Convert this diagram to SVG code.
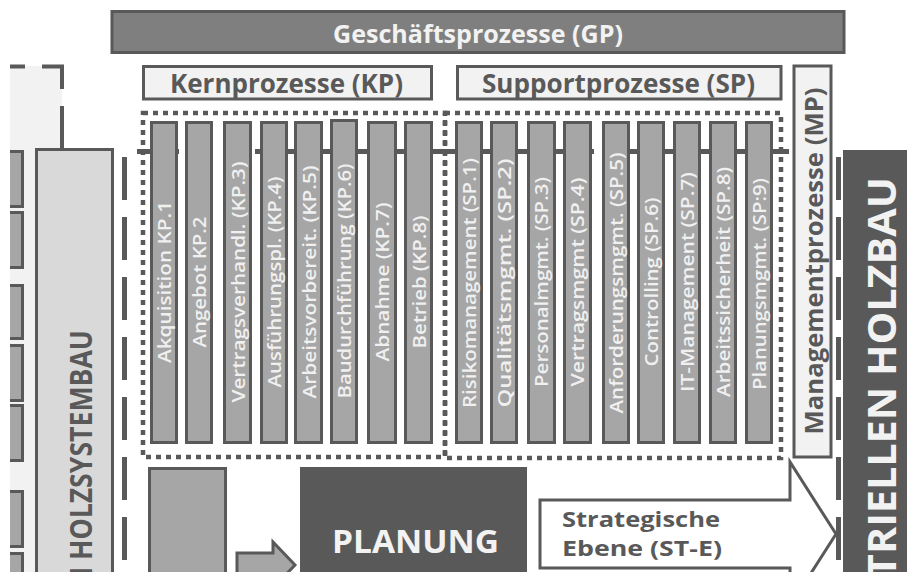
<svg xmlns="http://www.w3.org/2000/svg" width="907" height="572" viewBox="0 0 907 572">
<style>
.col{fill:#a6a6a6;stroke:#595959;stroke-width:3}
.lt{fill:#f2f2f2;stroke:#595959;stroke-width:3}
.t{font-family:"Open Sans","Noto Sans","Liberation Sans",sans-serif;font-weight:700}
.ct{font-family:"Open Sans","Noto Sans","Liberation Sans",sans-serif;font-weight:600;font-size:18px;fill:#f0f0f0;text-anchor:middle}
.dot{fill:none;stroke:#595959;stroke-width:4.5;stroke-dasharray:5 5}
.dash{fill:none;stroke:#595959;stroke-width:5;stroke-dasharray:43 17}
</style>
<rect width="907" height="572" fill="#ffffff"/>

<g id="left-area">
<rect x="10" y="66" width="52" height="506" fill="#f2f2f2"/>
<path d="M10 66.5 H25 M42 66.5 H64 M62 65 V89 M62 106 V148" fill="none" stroke="#595959" stroke-width="4"/>
</g>

<g id="left-small-boxes">
<rect class="col" x="3" y="151.5" width="19.5" height="55"/>
<rect class="col" x="3" y="212.5" width="19.5" height="55"/>
<rect class="col" x="3" y="285.5" width="19.5" height="53"/>
<rect class="col" x="3" y="345.5" width="19.5" height="55"/>
<rect class="col" x="3" y="405.5" width="19.5" height="55"/>
<rect class="col" x="3" y="491.5" width="19.5" height="55"/>
<rect class="col" x="3" y="553.5" width="19.5" height="40"/>
<rect x="0" y="140" width="10" height="432" fill="#ffffff"/>
</g>

<g id="holzsystembau">
<rect x="36.5" y="149.5" width="76" height="440" fill="#d9d9d9" stroke="#595959" stroke-width="3"/>
<text class="t" transform="translate(92,330) rotate(-90)" font-size="30" fill="#595959" text-anchor="end" textLength="262" lengthAdjust="spacingAndGlyphs">M HOLZSYSTEMBAU</text>
</g>

<g id="gp">
<rect x="112" y="11.5" width="732" height="41" fill="#7f7f7f" stroke="#595959" stroke-width="3"/>
<text class="t" x="478" y="43" font-size="25" fill="#f2f2f2" text-anchor="middle" textLength="290" lengthAdjust="spacingAndGlyphs">Geschäftsprozesse (GP)</text>
</g>

<g id="kp-header">
<rect class="lt" x="143.5" y="66.5" width="288" height="32.5"/>
<text class="t" x="286.5" y="93" font-size="26" fill="#595959" text-anchor="middle" textLength="233" lengthAdjust="spacingAndGlyphs">Kernprozesse (KP)</text>
</g>

<g id="sp-header">
<rect class="lt" x="457.5" y="66.5" width="323.5" height="32.5"/>
<text class="t" x="618.5" y="93" font-size="26" fill="#595959" text-anchor="middle" textLength="273" lengthAdjust="spacingAndGlyphs">Supportprozesse (SP)</text>
</g>

<g id="mp">
<rect class="lt" x="794" y="66" width="37" height="391"/>
<text class="t" transform="translate(823,261) rotate(-90)" font-size="25" fill="#595959" text-anchor="middle" textLength="347" lengthAdjust="spacingAndGlyphs">Managementprozesse (MP)</text>
</g>

<g id="kp-group">
<rect class="dot" x="143" y="113" width="302" height="344"/>
</g>
<g id="sp-group">
<rect class="dot" x="445" y="113" width="336" height="345"/>
</g>

<g id="connectors">
<path d="M137 151.5 H179 M255 151.5 H594 M602 151.5 H789" fill="none" stroke="#595959" stroke-width="5"/>
<line class="dash" x1="124.5" y1="157" x2="124.5" y2="572"/>
<line class="dash" x1="838.5" y1="157" x2="838.5" y2="572"/>
</g>

<g id="kp-columns">
<g id="kp1"><rect class="col" x="151.5" y="122.5" width="25" height="320"/><text class="ct" transform="translate(170.5,282) rotate(-90)" textLength="162" lengthAdjust="spacingAndGlyphs">Akquisition KP.1</text></g>
<g id="kp2"><rect class="col" x="186.5" y="122.5" width="25" height="320"/><text class="ct" transform="translate(206,282) rotate(-90)" textLength="131" lengthAdjust="spacingAndGlyphs">Angebot KP.2</text></g>
<g id="kp3"><rect class="col" x="224.5" y="122.5" width="26" height="320"/><text class="ct" transform="translate(244.5,282) rotate(-90)" textLength="241" lengthAdjust="spacingAndGlyphs">Vertragsverhandl. (KP.3)</text></g>
<g id="kp4"><rect class="col" x="261.5" y="122.5" width="25" height="320"/><text class="ct" transform="translate(281,282) rotate(-90)" textLength="211" lengthAdjust="spacingAndGlyphs">Ausführungspl. (KP.4)</text></g>
<g id="kp5"><rect class="col" x="295.5" y="122.5" width="26" height="320"/><text class="ct" transform="translate(315.5,282) rotate(-90)" textLength="233" lengthAdjust="spacingAndGlyphs">Arbeitsvorbereit. (KP.5)</text></g>
<g id="kp6"><rect class="col" x="331.5" y="120.5" width="25" height="322"/><text class="ct" transform="translate(351,281) rotate(-90)" textLength="235" lengthAdjust="spacingAndGlyphs">Baudurchführung (KP.6)</text></g>
<g id="kp7"><rect class="col" x="368.5" y="122.5" width="27" height="320"/><text class="ct" transform="translate(389,282) rotate(-90)" textLength="159" lengthAdjust="spacingAndGlyphs">Abnahme (KP.7)</text></g>
<g id="kp8"><rect class="col" x="405.5" y="122.5" width="26" height="320"/><text class="ct" transform="translate(425.5,282) rotate(-90)" textLength="133" lengthAdjust="spacingAndGlyphs">Betrieb (KP.8)</text></g>
</g>

<g id="sp-columns">
<g id="sp1"><rect class="col" x="456.5" y="122.5" width="25" height="320"/><text class="ct" transform="translate(475.5,283) rotate(-90)" textLength="250" lengthAdjust="spacingAndGlyphs">Risikomanagement (SP.1)</text></g>
<g id="sp2"><rect class="col" x="491.5" y="122.5" width="25" height="320"/><text class="ct" transform="translate(510.5,283) rotate(-90)" textLength="249" lengthAdjust="spacingAndGlyphs">Qualitätsmgmt. (SP.2)</text></g>
<g id="sp3"><rect class="col" x="528.5" y="122.5" width="26" height="320"/><text class="ct" transform="translate(548,282) rotate(-90)" textLength="210" lengthAdjust="spacingAndGlyphs">Personalmgmt. (SP.3)</text></g>
<g id="sp4"><rect class="col" x="564.5" y="122.5" width="26" height="320"/><text class="ct" transform="translate(584,282) rotate(-90)" textLength="209" lengthAdjust="spacingAndGlyphs">Vertragsmgmt (SP.4)</text></g>
<g id="sp5"><rect class="col" x="603.5" y="122.5" width="25" height="320"/><text class="ct" transform="translate(622.5,283) rotate(-90)" textLength="261" lengthAdjust="spacingAndGlyphs">Anforderungsmgmt. (SP.5)</text></g>
<g id="sp6"><rect class="col" x="638.5" y="122.5" width="25" height="320"/><text class="ct" transform="translate(657.5,282) rotate(-90)" textLength="169" lengthAdjust="spacingAndGlyphs">Controlling (SP.6)</text></g>
<g id="sp7"><rect class="col" x="674.5" y="122.5" width="25" height="320"/><text class="ct" transform="translate(693.5,282) rotate(-90)" textLength="220" lengthAdjust="spacingAndGlyphs">IT-Management (SP.7)</text></g>
<g id="sp8"><rect class="col" x="710.5" y="122.5" width="25" height="320"/><text class="ct" transform="translate(729.5,282) rotate(-90)" textLength="230" lengthAdjust="spacingAndGlyphs">Arbeitssicherheit (SP.8)</text></g>
<g id="sp9"><rect class="col" x="746.5" y="122.5" width="25" height="320"/><text class="ct" transform="translate(765.5,284) rotate(-90)" textLength="212" lengthAdjust="spacingAndGlyphs">Planungsmgmt. (SP:9)</text></g>
</g>

<g id="grey-box">
<rect class="col" x="149.5" y="468.5" width="76" height="120"/>
</g>

<g id="small-arrow">
<path class="col" d="M237 553 H273 V542 L295 565 L273 588 V577 H237 Z"/>
</g>

<g id="planung">
<rect x="300" y="467" width="227" height="120" fill="#595959"/>
<text class="t" x="415.5" y="553" font-size="32" fill="#f2f2f2" text-anchor="middle" textLength="167" lengthAdjust="spacingAndGlyphs">PLANUNG</text>
</g>

<g id="strategische-ebene">
<path d="M540 500 H790 V462 L836 534 L790 606 V568 H540 Z" fill="#ffffff" stroke="#595959" stroke-width="3"/>
<text class="t" x="562" y="527" font-size="22" fill="#595959" textLength="158" lengthAdjust="spacingAndGlyphs">Strategische</text>
<text class="t" x="562" y="556" font-size="22" fill="#595959" textLength="160" lengthAdjust="spacingAndGlyphs">Ebene (ST-E)</text>
</g>

<g id="industriellen-holzbau">
<rect x="843" y="150" width="70" height="430" fill="#595959"/>
<text class="t" transform="translate(896,177) rotate(-90)" font-size="40" fill="#f2f2f2" text-anchor="end" textLength="401" lengthAdjust="spacingAndGlyphs">TRIELLEN HOLZBAU</text>
</g>
</svg>
